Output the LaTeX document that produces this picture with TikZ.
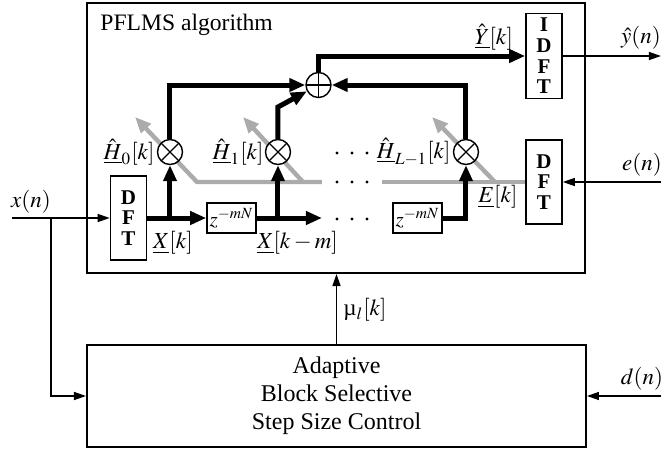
\documentclass[tikz,border=0pt]{standalone}
\usepackage{mathptmx}
\usepackage[no-math]{fontspec}
\setmainfont{Liberation Serif}
\usetikzlibrary{arrows.meta}
\pgfdeclarelayer{bg}
\pgfsetlayers{bg,main}
\tikzset{
 thk/.style={line width=2.5pt,-{Triangle[length=8pt,width=6.5pt]}},
 thn/.style={line width=0.7pt,-{Triangle[length=6pt,width=4pt]}},
 gry/.style={line width=2.2pt,color=black!33},
 gtip/.style={gry,{Triangle[length=8pt,width=6.5pt]}-},
 blk/.style={draw,line width=0.8pt,inner sep=0pt,fill=white},
 dftbox/.style={blk,minimum width=18pt,minimum height=42pt,align=center,font=\fontsize{10.5}{10.3}\selectfont\bfseries},
 zbox/.style={blk,minimum width=24.5pt,minimum height=15pt,font=\fontsize{10.5}{12}\selectfont},
 mult/.style={circle,draw,line width=0.7pt,fill=white,minimum size=12.5pt,inner sep=0pt,
   path picture={\draw[line width=0.7pt] (path picture bounding box.north west)--(path picture bounding box.south east)
     (path picture bounding box.north east)--(path picture bounding box.south west);}},
 addc/.style={circle,draw,line width=0.7pt,fill=white,minimum size=12.5pt,inner sep=0pt,
   path picture={\draw[line width=0.7pt] (path picture bounding box.north)--(path picture bounding box.south)
     (path picture bounding box.east)--(path picture bounding box.west);}},
 lbl/.style={font=\fontsize{11.5}{13}\selectfont,inner sep=0pt},
}
\begin{document}
\begin{tikzpicture}[x=0.5pt,y=-0.5pt]
\useasboundingbox (0,0) rectangle (661,450);
% frames
\node[draw,line width=1pt,minimum width=249pt,minimum height=135pt,inner sep=0pt] (alg) at (336,138) {};
\node[anchor=base west,font=\fontsize{11.8}{13}\selectfont,inner sep=0pt] (title) at (100,30) {PFLMS algorithm};
\node[draw,line width=1pt,minimum width=249.5pt,minimum height=51pt,align=center,font=\fontsize{12}{14}\selectfont] (ctrl) at (336.5,396) {Adaptive\\Block Selective\\Step Size Control};
% blocks
\node[dftbox,minimum height=42.5pt] (IDFT) at (544,56) {I\\D\\F\\T};
\node[dftbox] (DFTr) at (544,182) {D\\F\\T};
\node[dftbox] (DFTl) at (128.5,218) {D\\F\\T};
\node[zbox] (z1) at (231.5,218) {$z^{-mN}$};
\node[zbox] (z2) at (417.5,218) {$z^{-mN}$};
\node[mult] (m0) at (170,152) {};
\node[mult] (m1) at (278,152) {};
\node[mult] (mL) at (466,152) {};
\node[addc] (sum) at (318.5,85) {};
% gray adaptation paths
\coordinate (g0) at (197,182); \coordinate (g0t) at (135,117);
\coordinate (g1) at (303,182); \coordinate (g1t) at (243,117);
\coordinate (gh) at (322,182);
\coordinate (g2) at (382,182);
\coordinate (g3) at (495,182); \coordinate (g3t) at (432,117);
\begin{pgfonlayer}{bg}
\draw[gtip] (g0t) -- (g0) -- (gh);
\draw[gtip] (g1t) -- (g1);
\draw[gry] (DFTr.west) -- (g2);
\draw[gtip] (g3t) -- (g3);
\end{pgfonlayer}
% thick signal paths
\coordinate (b0) at (170,218);
\coordinate (b1) at (278,218);
\coordinate (xe) at (322,218);
\coordinate (k1) at (278,107);
\draw[thk] (DFTl.east) -- (z1.west);
\draw[thk] (b0) -- (m0.south);
\draw[thk] (z1.east) -- (xe);
\draw[thk] (b1) -- (m1.south);
\draw[thk] (z2.east) -| (mL.south);
\draw[thk] (m0.north) |- (sum.west);
\draw[thk] (m1.north) -- (k1) -- (sum);
\draw[thk] (mL.north) |- (sum.east);
\draw[thk] (sum.north) |- (IDFT.west);
% thin paths
\coordinate (xin) at (12,218);
\coordinate (br) at (51,218);
\coordinate (yout) at (661,56);
\coordinate (ein) at (661,182);
\coordinate (din) at (661,396);
\draw[thn] (xin) -- (DFTl.west);
\draw[thn] (br) |- (ctrl.west);
\draw[thn] (IDFT.east) -- (yout);
\draw[thn] (ein) -- (DFTr.east);
\draw[thn] (din) -- (ctrl.east);
\draw[thn] (ctrl.north) -- (ctrl.north |- alg.south);
% dots
\foreach \y in {153,182,219} \foreach \x in {337,352,367} \fill (\x,\y) circle (0.8pt);
% labels
\node[lbl] (lY) at (494,37) {$\hat{\underline{Y}}[k]$};
\node[lbl] (ly) at (641,38) {$\hat{y}(n)$};
\node[lbl,anchor=east] (lH0) at (155,152) {$\hat{\underline{H}}_0[k]$};
\node[lbl,anchor=east] (lH1) at (264,152) {$\hat{\underline{H}}_1[k]$};
\node[lbl,anchor=east] (lHL) at (451,152) {$\hat{\underline{H}}_{L-1}[k]$};
\node[lbl] (lX) at (173,243) {$\underline{X}[k]$};
\node[lbl,anchor=west] (lXm) at (257,243) {$\underline{X}[k-m]$};
\node[lbl] (lE) at (498,197) {$\underline{E}[k]$};
\node[lbl] (le) at (642,165) {$e(n)$};
\node[lbl] (ld) at (642,379) {$d(n)$};
\node[lbl] (lx) at (31,202) {$x(n)$};
\node[lbl,anchor=west] (lmu) at (343,310) {µ$_l[k]$};
\end{tikzpicture}
\end{document}
